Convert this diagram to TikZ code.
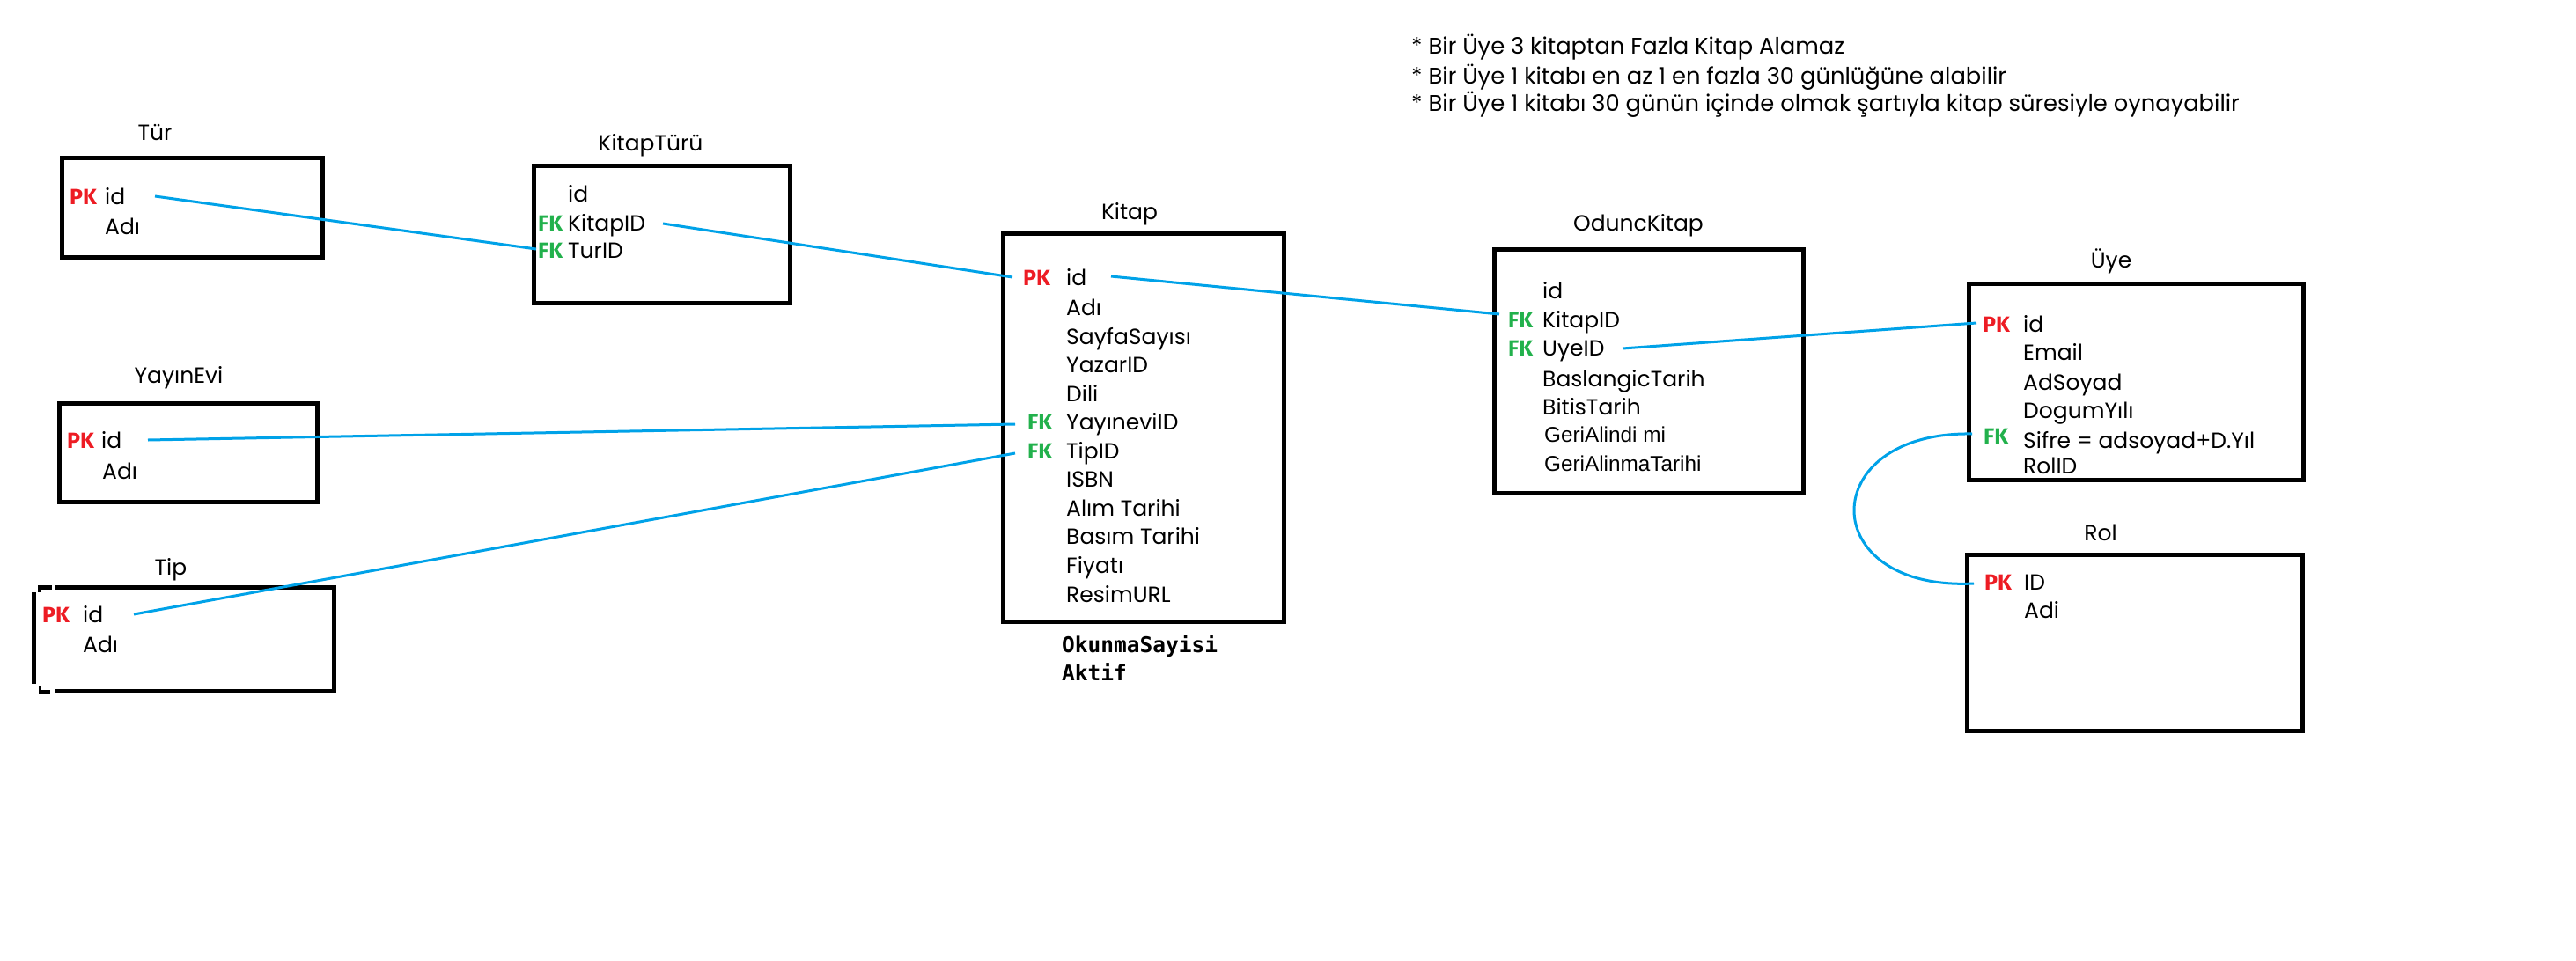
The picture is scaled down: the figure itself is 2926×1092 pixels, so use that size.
\documentclass[tikz,border=0pt]{standalone}
\usepackage{fontspec}
\setmainfont{Poppins}
\newfontfamily\keyfont{Fira Sans}
\newfontfamily\monofont{DejaVu Sans Mono}
\newfontfamily\altfont{Liberation Sans}
\definecolor{pkred}{HTML}{ED1C24}
\definecolor{fkgreen}{HTML}{22B14C}
\definecolor{relblue}{HTML}{00A2E8}
\begin{document}
\begin{tikzpicture}[x=1pt,y=-1pt,
  boxline/.style={line width=5pt, draw=black},
  tbl/.style={boxline, rectangle, inner sep=0pt},
  title/.style={anchor=base, inner sep=0pt, font=\fontsize{25}{30}\selectfont},
  field/.style={anchor=base west, inner sep=0pt, font=\fontsize{25}{30}\selectfont},
  altfield/.style={anchor=base west, inner sep=0pt, font=\altfont\fontsize{24.3}{28}\selectfont},
  pk/.style={anchor=base west, inner sep=0pt, text=pkred, font=\keyfont\bfseries\fontsize{25}{30}\selectfont},
  fk/.style={anchor=base west, inner sep=0pt, text=fkgreen, font=\keyfont\bfseries\fontsize{25}{30}\selectfont},
  mono/.style={anchor=base west, inner sep=0pt, font=\monofont\bfseries\fontsize{24.5}{28}\selectfont},
  note/.style={anchor=base west, inner sep=0pt, font=\fontsize{25.8}{30}\selectfont},
  rel/.style={draw=relblue, line width=3pt},
]
\fill[white] (0,0) rectangle (2926,1092);
\useasboundingbox (0,0) rectangle (2926,1092);

% notes
\node[note] (n1) at (1603,61) {* Bir Üye 3 kitaptan Fazla Kitap Alamaz};
\node[note] (n2) at (1603,95) {* Bir Üye 1 kitabı en az 1 en fazla 30 günlüğüne alabilir};
\node[note] (n3) at (1603,126) {* Bir Üye 1 kitabı 30 günün içinde olmak şartıyla kitap süresiyle oynayabilir};

% Tür
\node[tbl, minimum width=296pt, minimum height=113pt] (tur) at (218,235.5) {};
\node[title] (turT) at (176,159) {Tür};
\node[pk] (turPK) at (79,232) {PK};
\node[field] (turId) at (119,232) {id};
\node[field] (turAdi) at (119,266) {Adı};

% KitapTürü
\node[tbl, minimum width=291pt, minimum height=156pt] (kt) at (751.5,266) {};
\node[title] (ktT) at (739,171) {KitapTürü};
\node[field] (ktId) at (645,229) {id};
\node[fk] (ktFK1) at (611,262) {FK};
\node[field] (ktKitap) at (645,262) {KitapID};
\node[fk] (ktFK2) at (611,293) {FK};
\node[field] (ktTur) at (645,293) {TurID};

% YayınEvi
\node[tbl, minimum width=293pt, minimum height=112pt] (ye) at (213.5,514) {};
\node[title] (yeT) at (203,435) {YayınEvi};
\node[pk] (yePK) at (76,509) {PK};
\node[field] (yeId) at (115,509) {id};
\node[field] (yeAdi) at (116,544) {Adı};

% Tip (broken left corners)
\node[inner sep=0pt, minimum width=341pt, minimum height=117pt] (tip) at (209,726) {};
\draw[boxline] (62,667.5) -- (379,667.5) -- (379,785) -- (62,785);
\draw[boxline] (38.5,673) -- (38.5,777);
\fill (43,665) rectangle (59,670);
\fill (43,665) rectangle (47,673);
\fill (44,784) rectangle (57,789);
\fill (44,780) rectangle (47,789);
\node[title] (tipT) at (194,653) {Tip};
\node[pk] (tipPK) at (48,707) {PK};
\node[field] (tipId) at (94,707) {id};
\node[field] (tipAdi) at (94,741) {Adı};

% Kitap
\node[tbl, minimum width=319pt, minimum height=441pt] (kitap) at (1298.5,485.5) {};
\node[title] (kitapT) at (1283,249) {Kitap};
\node[pk] (kPK) at (1162,324) {PK};
\node[field] (k1) at (1211,324) {id};
\node[field] (k2) at (1211,358) {Adı};
\node[field] (k3) at (1211,391) {SayfaSayısı};
\node[field] (k4) at (1211,423) {YazarID};
\node[field] (k5) at (1211,456) {Dili};
\node[fk] (kFK1) at (1167,488) {FK};
\node[field] (k6) at (1211,488) {YayıneviID};
\node[fk] (kFK2) at (1167,521) {FK};
\node[field] (k7) at (1211,521) {TipID};
\node[field] (k8) at (1211,553) {ISBN};
\node[field] (k9) at (1211,586) {Alım Tarihi};
\node[field] (k10) at (1211,618) {Basım Tarihi};
\node[field] (k11) at (1211,651) {Fiyatı};
\node[field] (k12) at (1211,684) {ResimURL};
\node[mono] (m1) at (1206,741) {OkunmaSayisi};
\node[mono] (m2) at (1206,773) {Aktif};

% OduncKitap
\node[tbl, minimum width=351pt, minimum height=277pt] (ok) at (1872.5,421.5) {};
\node[title] (okT) at (1861,262) {OduncKitap};
\node[field] (o1) at (1752,339) {id};
\node[fk] (oFK1) at (1713,372) {FK};
\node[field] (o2) at (1752,372) {KitapID};
\node[fk] (oFK2) at (1713,404) {FK};
\node[field] (o3) at (1752,404) {UyeID};
\node[field] (o4) at (1752,439) {BaslangicTarih};
\node[field] (o5) at (1752,471) {BitisTarih};
\node[altfield] (o6) at (1754,502) {GeriAlindi mi};
\node[altfield] (o7) at (1754,535) {GeriAlinmaTarihi};

% Üye
\node[tbl, minimum width=380pt, minimum height=223pt] (uye) at (2426,433.5) {};
\node[title] (uyeT) at (2398,304) {Üye};
\node[pk] (uPK) at (2252,377) {PK};
\node[field] (u1) at (2298,377) {id};
\node[field] (u2) at (2298,409) {Email};
\node[field] (u3) at (2298,443) {AdSoyad};
\node[field] (u4) at (2298,475) {DogumYılı};
\node[fk] (uFK) at (2253,504) {FK};
\node[field] (u5) at (2298,509) {Sifre = adsoyad+D.Yıl};
\node[field] (u6) at (2298,538) {RolID};

% Rol
\node[tbl, minimum width=381pt, minimum height=200pt] (rol) at (2424.5,730) {};
\node[title] (rolT) at (2386,614) {Rol};
\node[pk] (rPK) at (2254,670) {PK};
\node[field] (r1) at (2299,670) {ID};
\node[field] (r2) at (2299,702) {Adi};

% connector ends
\coordinate (c1a) at (176,223);  \coordinate (c1b) at (609,283);
\coordinate (c2a) at (753,254);  \coordinate (c2b) at (1150,315);
\coordinate (c3a) at (168,500);  \coordinate (c3b) at (1153,482);
\coordinate (c4a) at (152,698);  \coordinate (c4b) at (1153,515);
\coordinate (c5a) at (1262,314); \coordinate (c5b) at (1703,357);
\coordinate (c6a) at (1843,396); \coordinate (c6b) at (2245,367);
\coordinate (c7a) at (2240,493); \coordinate (c7b) at (2242,663);

\draw[rel] (c1a) -- (c1b);
\draw[rel] (c2a) -- (c2b);
\draw[rel] (c3a) -- (c3b);
\draw[rel] (c4a) -- (c4b);
\draw[rel] (c5a) -- (c5b);
\draw[rel] (c6a) -- (c6b);
\draw[rel] (c7a) .. controls (2061,490) and (2061,672) .. (c7b);
\end{tikzpicture}
\end{document}
